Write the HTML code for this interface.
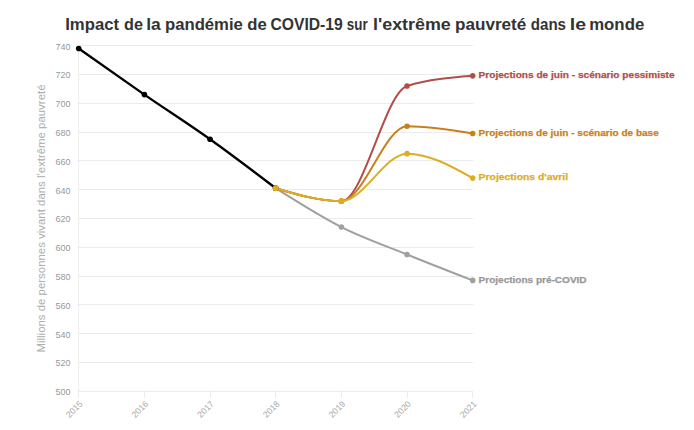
<!DOCTYPE html>
<html><head><meta charset="utf-8"><style>
html,body{margin:0;padding:0;background:#fff;width:694px;height:430px;overflow:hidden}
svg{display:block}
text{font-family:"Liberation Sans",sans-serif}
.yl{font-size:9px;fill:#999999;text-anchor:end}
.xl{font-size:8.7px;fill:#a8a8a8;text-anchor:end}
.lab{font-size:9.5px;font-weight:bold}
.yt{font-size:11.3px;fill:#adadad;text-anchor:middle}
.title{font-size:16.5px;font-weight:bold;fill:#333333}
</style></head><body>
<svg width="694" height="430" viewBox="0 0 694 430">
<line x1="78.5" x2="473" y1="391.50" y2="391.50" stroke="#ebebeb" stroke-width="1"/>
<text x="70.5" y="395.20" class="yl">500</text>
<line x1="78.5" x2="473" y1="362.50" y2="362.50" stroke="#ebebeb" stroke-width="1"/>
<text x="70.5" y="366.39" class="yl">520</text>
<line x1="78.5" x2="473" y1="333.50" y2="333.50" stroke="#ebebeb" stroke-width="1"/>
<text x="70.5" y="337.58" class="yl">540</text>
<line x1="78.5" x2="473" y1="304.50" y2="304.50" stroke="#ebebeb" stroke-width="1"/>
<text x="70.5" y="308.78" class="yl">560</text>
<line x1="78.5" x2="473" y1="276.50" y2="276.50" stroke="#ebebeb" stroke-width="1"/>
<text x="70.5" y="279.97" class="yl">580</text>
<line x1="78.5" x2="473" y1="247.50" y2="247.50" stroke="#ebebeb" stroke-width="1"/>
<text x="70.5" y="251.16" class="yl">600</text>
<line x1="78.5" x2="473" y1="218.50" y2="218.50" stroke="#ebebeb" stroke-width="1"/>
<text x="70.5" y="222.35" class="yl">620</text>
<line x1="78.5" x2="473" y1="189.50" y2="189.50" stroke="#ebebeb" stroke-width="1"/>
<text x="70.5" y="193.54" class="yl">640</text>
<line x1="78.5" x2="473" y1="160.50" y2="160.50" stroke="#ebebeb" stroke-width="1"/>
<text x="70.5" y="164.74" class="yl">660</text>
<line x1="78.5" x2="473" y1="132.50" y2="132.50" stroke="#ebebeb" stroke-width="1"/>
<text x="70.5" y="135.93" class="yl">680</text>
<line x1="78.5" x2="473" y1="103.50" y2="103.50" stroke="#ebebeb" stroke-width="1"/>
<text x="70.5" y="107.12" class="yl">700</text>
<line x1="78.5" x2="473" y1="74.50" y2="74.50" stroke="#ebebeb" stroke-width="1"/>
<text x="70.5" y="78.31" class="yl">720</text>
<line x1="78.5" x2="473" y1="45.50" y2="45.50" stroke="#ebebeb" stroke-width="1"/>
<text x="70.5" y="49.50" class="yl">740</text>
<line x1="78.5" x2="78.5" y1="45.5" y2="391.5" stroke="#ededed" stroke-width="1"/>
<line x1="78.50" x2="78.50" y1="391.5" y2="398" stroke="#ececec" stroke-width="1"/>
<text transform="translate(83.20,404.5) rotate(-45)" class="xl">2015</text>
<line x1="144.50" x2="144.50" y1="391.5" y2="398" stroke="#ececec" stroke-width="1"/>
<text transform="translate(148.87,404.5) rotate(-45)" class="xl">2016</text>
<line x1="210.50" x2="210.50" y1="391.5" y2="398" stroke="#ececec" stroke-width="1"/>
<text transform="translate(214.53,404.5) rotate(-45)" class="xl">2017</text>
<line x1="275.50" x2="275.50" y1="391.5" y2="398" stroke="#ececec" stroke-width="1"/>
<text transform="translate(280.20,404.5) rotate(-45)" class="xl">2018</text>
<line x1="341.50" x2="341.50" y1="391.5" y2="398" stroke="#ececec" stroke-width="1"/>
<text transform="translate(345.87,404.5) rotate(-45)" class="xl">2019</text>
<line x1="407.50" x2="407.50" y1="391.5" y2="398" stroke="#ececec" stroke-width="1"/>
<text transform="translate(411.54,404.5) rotate(-45)" class="xl">2020</text>
<line x1="472.50" x2="472.50" y1="391.5" y2="398" stroke="#ececec" stroke-width="1"/>
<text transform="translate(477.20,404.5) rotate(-45)" class="xl">2021</text>
<path d="M275.70,188.20 C297.59,202.13 319.48,216.05 341.37,227.09 C363.26,238.14 385.15,245.58 407.04,254.46 C428.92,263.34 450.81,271.87 472.70,280.39" fill="none" stroke="#a0a0a0" stroke-width="2.0" stroke-linecap="round" stroke-linejoin="round"/><circle cx="275.70" cy="188.20" r="2.8" fill="#a0a0a0"/><circle cx="341.37" cy="227.09" r="2.8" fill="#a0a0a0"/><circle cx="407.04" cy="254.46" r="2.8" fill="#a0a0a0"/><circle cx="472.70" cy="280.39" r="2.8" fill="#a0a0a0"/>
<path d="M275.70,188.20 C297.59,194.69 319.48,201.17 341.37,201.17 C363.26,201.17 385.15,92.66 407.04,85.94 C428.92,79.21 450.81,77.53 472.70,75.85" fill="none" stroke="#b04e4a" stroke-width="2.0" stroke-linecap="round" stroke-linejoin="round"/><circle cx="275.70" cy="188.20" r="2.8" fill="#b04e4a"/><circle cx="341.37" cy="201.17" r="2.8" fill="#b04e4a"/><circle cx="407.04" cy="85.94" r="2.8" fill="#b04e4a"/><circle cx="472.70" cy="75.85" r="2.8" fill="#b04e4a"/>
<path d="M275.70,188.20 C297.59,194.69 319.48,201.17 341.37,201.17 C363.26,201.17 385.15,126.27 407.04,126.27 C428.92,126.27 450.81,129.87 472.70,133.47" fill="none" stroke="#c9801c" stroke-width="2.0" stroke-linecap="round" stroke-linejoin="round"/><circle cx="275.70" cy="188.20" r="2.8" fill="#c9801c"/><circle cx="341.37" cy="201.17" r="2.8" fill="#c9801c"/><circle cx="407.04" cy="126.27" r="2.8" fill="#c9801c"/><circle cx="472.70" cy="133.47" r="2.8" fill="#c9801c"/>
<path d="M275.70,188.20 C297.59,194.69 319.48,201.17 341.37,201.17 C363.26,201.17 385.15,153.63 407.04,153.63 C428.92,153.63 450.81,165.88 472.70,178.12" fill="none" stroke="#dcae22" stroke-width="2.0" stroke-linecap="round" stroke-linejoin="round"/><circle cx="275.70" cy="188.20" r="2.8" fill="#dcae22"/><circle cx="341.37" cy="201.17" r="2.8" fill="#dcae22"/><circle cx="407.04" cy="153.63" r="2.8" fill="#dcae22"/><circle cx="472.70" cy="178.12" r="2.8" fill="#dcae22"/>
<path d="M78.70,48.48 C100.59,63.97 122.48,79.45 144.37,94.58 C166.26,109.70 188.15,123.63 210.03,139.23 C231.92,154.83 253.81,171.52 275.70,188.20" fill="none" stroke="#000000" stroke-width="2.3" stroke-linecap="round" stroke-linejoin="round"/><circle cx="78.70" cy="48.48" r="2.8" fill="#000000"/><circle cx="144.37" cy="94.58" r="2.8" fill="#000000"/><circle cx="210.03" cy="139.23" r="2.8" fill="#000000"/><circle cx="275.70" cy="188.20" r="2.8" fill="#000000"/>
<circle cx="275.70" cy="188.20" r="3" fill="#dcae22"/>
<text x="478.6" y="78.05" class="lab" fill="#b04e4a" stroke="#b04e4a" stroke-width="0.25" textLength="196.0" lengthAdjust="spacingAndGlyphs">Projections de juin - scénario pessimiste</text>
<text x="478.6" y="135.67" class="lab" fill="#c9801c" stroke="#c9801c" stroke-width="0.25" textLength="180.2" lengthAdjust="spacingAndGlyphs">Projections de juin - scénario de base</text>
<text x="478.6" y="180.32" class="lab" fill="#dcae22" stroke="#dcae22" stroke-width="0.25" textLength="89.5" lengthAdjust="spacingAndGlyphs">Projections d'avril</text>
<text x="478.6" y="282.59" class="lab" fill="#999999" stroke="#999999" stroke-width="0.25" textLength="108.0" lengthAdjust="spacingAndGlyphs">Projections pré-COVID</text>
<text transform="translate(45,218.5) rotate(-90)" class="yt" textLength="268" lengthAdjust="spacingAndGlyphs">Millions de personnes vivant dans l'extrême pauvreté</text>
<text x="65.20" y="29.9" class="title" textLength="53.83" lengthAdjust="spacingAndGlyphs">Impact</text>
<text x="124.00" y="29.9" class="title" textLength="18.93" lengthAdjust="spacingAndGlyphs">de</text>
<text x="146.20" y="29.9" class="title" textLength="14.52" lengthAdjust="spacingAndGlyphs">la</text>
<text x="165.00" y="29.9" class="title" textLength="77.83" lengthAdjust="spacingAndGlyphs">pandémie</text>
<text x="247.20" y="29.9" class="title" textLength="19.49" lengthAdjust="spacingAndGlyphs">de</text>
<text x="270.40" y="29.9" class="title" textLength="72.41" lengthAdjust="spacingAndGlyphs">COVID-19</text>
<text x="346.80" y="29.9" class="title" textLength="20.81" lengthAdjust="spacingAndGlyphs">sur</text>
<text x="373.00" y="29.9" class="title" textLength="77.83" lengthAdjust="spacingAndGlyphs">l'extrême</text>
<text x="455.00" y="29.9" class="title" textLength="71.24" lengthAdjust="spacingAndGlyphs">pauvreté</text>
<text x="530.80" y="29.9" class="title" textLength="35.22" lengthAdjust="spacingAndGlyphs">dans</text>
<text x="569.80" y="29.9" class="title" textLength="16.24" lengthAdjust="spacingAndGlyphs">le</text>
<text x="589.20" y="29.9" class="title" textLength="55.04" lengthAdjust="spacingAndGlyphs">monde</text>
</svg>
</body></html>
